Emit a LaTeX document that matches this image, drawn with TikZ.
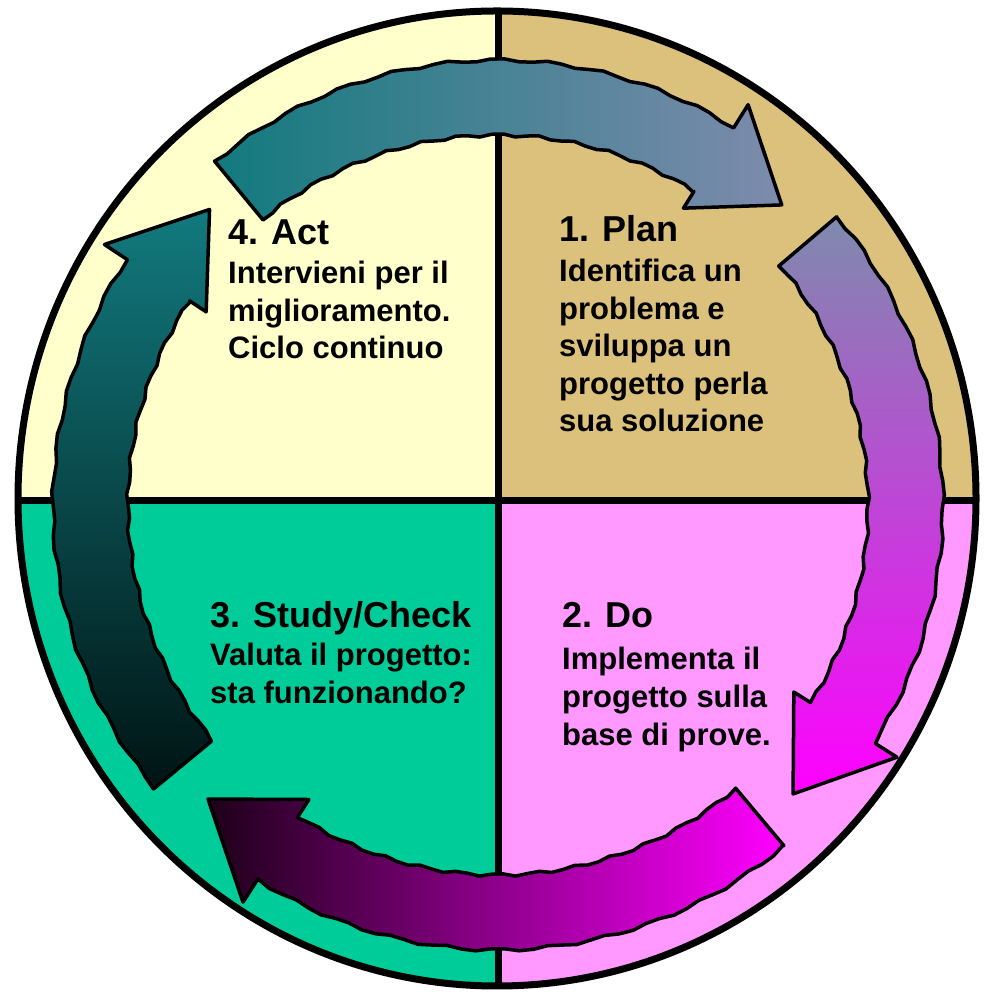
\documentclass[tikz,border=0pt]{standalone}
\usepackage{fontspec}
\setmainfont{Liberation Sans}

% Cores dos quadrantes e das setas
\definecolor{quad_act}{HTML}{FFFFCC}
\definecolor{quad_plan}{HTML}{DBC17C}
\definecolor{quad_check}{HTML}{00CC99}
\definecolor{quad_do}{HTML}{FF99FF}
\definecolor{arrow_teal}{HTML}{127A7E}
\definecolor{arrow_slate}{HTML}{7E8BAD}
\definecolor{arrow_dark}{HTML}{1E0019}
\definecolor{arrow_black}{HTML}{001414}

\begin{document}
\begin{tikzpicture}[x=1pt, y=1pt]

    % --- Definição de Estilos ---
    \tikzset{
        % Estilo das setas curvas do ciclo
        cycle_arrow/.style={
            draw=black,
            line width=3.5pt,
            line join=round
        },
        % Linhas que dividem os quadrantes
        divider/.style={
            line width=7pt
        },
        % Título de cada fase
        phase_title/.style={
            anchor=base west,
            inner sep=0pt,
            font=\fontsize{36}{43}\selectfont\bfseries
        },
        % Texto descritivo de cada fase (a base é a da última linha)
        phase_text/.style={
            anchor=base west,
            inner sep=0pt,
            align=left,
            font=\fontsize{31}{37.6}\selectfont\bfseries
        }
    }

    \useasboundingbox (0,0) rectangle (984,995);

    % --- Quadrantes ---
    \begin{scope}
        \clip (497,496.5) ellipse [x radius=479, y radius=487.5];
        \fill[quad_act] (0,494) rectangle (498,995);
        \fill[quad_plan] (498,494) rectangle (984,995);
        \fill[quad_check] (0,0) rectangle (498,494);
        \fill[quad_do] (498,0) rectangle (984,494);
        \draw[divider] (498,0) -- (498,995);
        \draw[divider] (0,494) -- (984,494);
    \end{scope}

    % --- Setas do ciclo ---
    \begin{scope}[shift={(498,490)}]
        % 4 -> 1
        \draw[cycle_arrow, left color=arrow_teal, right color=arrow_slate]
            (129.5:445) -- plot[domain=129.5:58, samples=40] (\x:{445+1.6*sin(53*\x)})
            -- (58:472) -- (46.6:413) -- (58:350) -- (58:370)
            -- plot[domain=58:129.5, samples=40] (\x:{370+1.6*sin(61*\x)}) -- cycle;
        % 1 -> 2
        \draw[cycle_arrow, top color=arrow_slate, middle color=magenta!55!arrow_slate, bottom color=magenta]
            (40.4:445) -- plot[domain=40.4:-32.3, samples=40] (\x:{445+1.6*sin(53*\x)})
            -- (-32.3:472) -- (-44.4:413) -- (-32.3:350) -- (-32.3:370)
            -- plot[domain=-32.3:40.4, samples=40] (\x:{370+1.6*sin(61*\x)}) -- cycle;
        % 2 -> 3
        \draw[cycle_arrow, left color=arrow_dark, middle color=magenta!65!arrow_dark, right color=magenta]
            (-50:445) -- plot[domain=-50:-122.7, samples=40] (\x:{445+1.6*sin(53*\x)})
            -- (-122.7:472) -- (-134.6:413) -- (-122.7:350) -- (-122.7:370)
            -- plot[domain=-122.7:-50, samples=40] (\x:{370+1.6*sin(61*\x)}) -- cycle;
        % 3 -> 4
        \draw[cycle_arrow, top color=arrow_teal, middle color=arrow_teal!78!arrow_black, bottom color=arrow_black]
            (219.5:445) -- plot[domain=219.5:146.5, samples=40] (\x:{445+1.6*sin(53*\x)})
            -- (146.5:472) -- (134.3:413) -- (146.5:350) -- (146.5:370)
            -- plot[domain=146.5:219.5, samples=40] (\x:{370+1.6*sin(61*\x)}) -- cycle;
    \end{scope}

    % --- Contorno do círculo ---
    \draw[line width=7pt] (497,496.5) ellipse [x radius=479, y radius=487.5];

    % --- Textos das fases ---
    \node[phase_title] (act) at (228,750) {4. Act};
    \node[phase_text] (act_text) at ([yshift=-113.7]act.base west)
        {Intervieni per il\\miglioramento.\\Ciclo continuo};

    \node[phase_title] (plan) at (559,753) {1. Plan};
    \node[phase_text] (plan_text) at ([yshift=-189.9]plan.base west)
        {Identifica un\\problema e\\sviluppa un\\progetto perla\\sua soluzione};

    \node[phase_title] (check) at (210,367) {3. Study/Check};
    \node[phase_text] (check_text) at ([yshift=-75.6]check.base west)
        {Valuta il progetto:\\sta funzionando?};

    \node[phase_title] (do) at (562,367) {2. Do};
    \node[phase_text] (do_text) at ([yshift=-117.2]do.base west)
        {Implementa il\\progetto sulla\\base di prove.};

\end{tikzpicture}
\end{document}
